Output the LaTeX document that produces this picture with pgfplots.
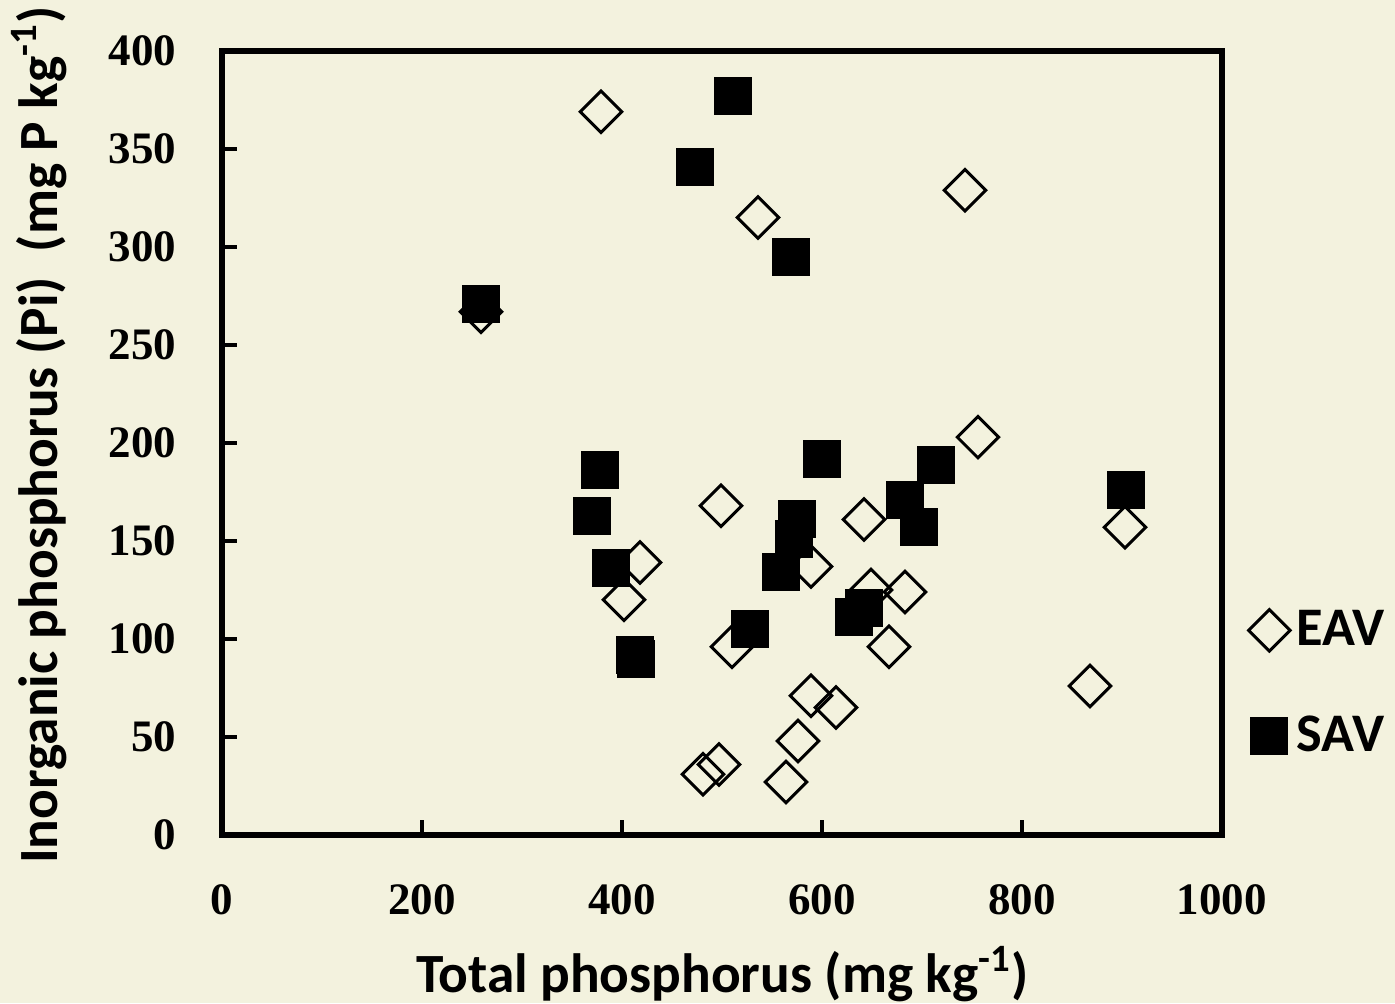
\documentclass[border=0pt]{standalone}
\usepackage{fontspec}
\setmainfont{Carlito}
\newfontfamily\tickfont{Liberation Serif}
\usepackage{pgfplots}
\pgfplotsset{compat=1.18}
\definecolor{bg}{RGB}{243,242,222}

\pgfplotstableread{
x y
379 369
536 315
743 329
259 267
756 203
499 168
642 161
418 139
589 137
903 157
402 120
649 125
683 124
510 96
667 96
868 76
589 71
614 65
576 48
497 36
481 31
564 27
}\eav

\pgfplotstableread{
x y
511 377
473 341
569 295
259 271
378 186
370 163
389 136
600 192
714 189
683 171
697 157
904 176
575 161
572 151
559 134
528 105
413 92
414 90
632 111
642 116
}\sav

\begin{document}
\begin{tikzpicture}
\fill[bg] (-66.6pt,-50.4pt) rectangle (351.9pt,250.5pt);
\useasboundingbox (-66.6pt,-50.4pt) rectangle (351.9pt,250.5pt);
\begin{axis}[
  width=300pt, height=235.2pt, scale only axis,
  xmin=0, xmax=1000, ymin=0, ymax=400,
  xtick={0,200,...,1000}, ytick={0,50,...,400},
  xtick pos=left, ytick pos=left,
  tick align=inside, major tick length=4.5pt,
  every tick/.style={black, line width=1pt},
  axis line style={line width=1.6pt},
  /pgf/number format/assume math mode=true,
  /pgf/number format/1000 sep={},
  tick label style={font=\tickfont\bfseries\fontsize{13.5}{14}\selectfont},
  xticklabel style={anchor=center, yshift=-19.5pt},
  yticklabel style={anchor=east, inner sep=0pt, xshift=-13.5pt},
  label style={font=\bfseries\fontsize{16.6}{19}\selectfont},
  xlabel={Total phosphorus (mg kg\textsuperscript{-1})},
  ylabel={Inorganic phosphorus (Pi)\ \ (mg P kg\textsuperscript{-1})},
  xlabel style={at={(axis description cs:0.5005,-0.2003)}, anchor=base},
  ylabel style={at={(axis description cs:-0.165,0.5102)}, anchor=base, rotate=0},
  legend style={at={(rel axis cs:1.016,0.1935)}, anchor=west, draw=none, fill=none,
    font=\bfseries\fontsize{16.3}{19}\selectfont, row sep=15.6pt},
  legend cell align=left,
  legend image code/.code={\draw[mark repeat=2,mark phase=2,#1] plot coordinates {(0pt,0pt)(4pt,0pt)(8pt,0pt)};},
]
\addplot[only marks, mark=square, mark size=4.4pt,
  mark options={rotate=45, line width=0.9pt, draw=black, fill=none}] table {\eav};
\addlegendentry{EAV}
\addplot[only marks, mark=square*, mark size=5.5pt,
  mark options={draw=black, fill=black, line width=0.4pt}] table {\sav};
\addlegendentry{SAV}
\end{axis}
\end{tikzpicture}
\end{document}
